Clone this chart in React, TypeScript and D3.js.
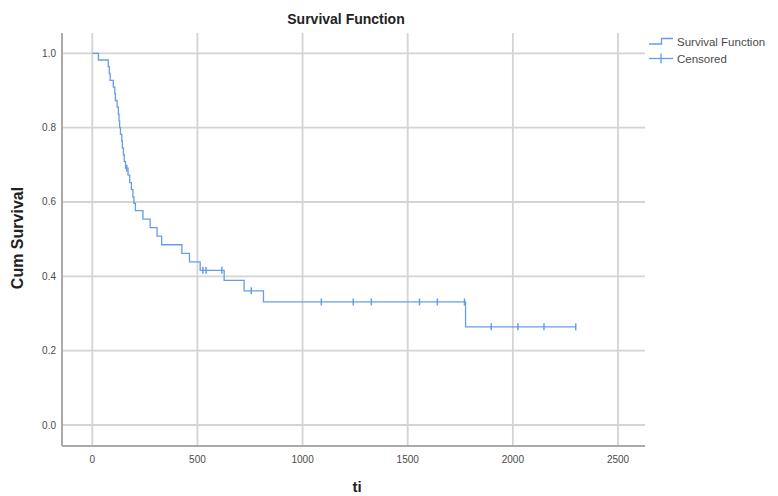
import React from "react";
import * as d3 from "d3";

const eventTimes = [0, 29, 76, 81, 85, 100, 107, 110, 118, 124, 127, 130, 134, 140, 143, 148, 152, 158, 170, 178, 186, 193, 198, 205, 241, 275, 308, 330, 426, 462, 513, 627, 722, 814, 1775];
const survival = [1.0, 0.982, 0.964, 0.945, 0.927, 0.909, 0.891, 0.873, 0.855, 0.836, 0.818, 0.8, 0.782, 0.764, 0.745, 0.727, 0.709, 0.691, 0.672, 0.652, 0.633, 0.614, 0.596, 0.577, 0.554, 0.531, 0.508, 0.485, 0.462, 0.439, 0.416, 0.389, 0.361, 0.331, 0.264];
const censorTimes = [164, 526, 541, 616, 756, 1089, 1241, 1327, 1556, 1641, 1770, 1897, 2024, 2148, 2299];
const xTicks = [0, 500, 1000, 1500, 2000, 2500];
const yTicks = [0.0, 0.2, 0.4, 0.6, 0.8, 1.0];

const W = 778, H = 496;
const LINE = "#649de8";
const GRID = "#d4d4d4";
const AXIS = "#aaaaaa";
const TXT = "#4a4a4a";

export default function App() {
  const x = d3.scaleLinear().domain([0, 2500]).range([92.3, 618]);
  const y = d3.scaleLinear().domain([0, 1]).range([425, 53.3]);
  const left = 62, right = 645, top = 33, bottom = 446;

  const pts: [number, number][] = eventTimes.map((t, i) => [t, survival[i]]);
  const lastT = censorTimes[censorTimes.length - 1];
  pts.push([lastT, survival[survival.length - 1]]);
  const line = d3.line<[number, number]>().x(d => x(d[0])).y(d => y(d[1])).curve(d3.curveStepAfter);

  const sAt = (t: number) => {
    let s = 1;
    for (let i = 0; i < eventTimes.length; i++) if (eventTimes[i] <= t) s = survival[i];
    return s;
  };

  const font = "'Liberation Sans', Arial, sans-serif";

  return (
    <svg width={W} height={H} style={{ position: "absolute", left: 0, top: 0, background: "#fff" }} fontFamily={font}>
      <rect width={W} height={H} fill="#fff" />
      {yTicks.map(v => (
        <line key={"gy" + v} x1={left} x2={right} y1={y(v)} y2={y(v)} stroke={GRID} strokeWidth={1.8} />
      ))}
      {xTicks.map(v => (
        <line key={"gx" + v} x1={x(v)} x2={x(v)} y1={top} y2={bottom} stroke={GRID} strokeWidth={1.8} />
      ))}
      <line x1={left} x2={left} y1={top} y2={bottom} stroke={AXIS} strokeWidth={2} />
      <line x1={left} x2={right} y1={bottom} y2={bottom} stroke={AXIS} strokeWidth={2} />
      {yTicks.map(v => (
        <text key={"ty" + v} x={56} y={y(v)} dy="0.35em" textAnchor="end" fontSize={10} fill={TXT}>{v.toFixed(1)}</text>
      ))}
      {xTicks.map(v => (
        <text key={"tx" + v} x={x(v)} y={463} textAnchor="middle" fontSize={10} fill={TXT}>{v}</text>
      ))}
      <path d={line(pts) || ""} fill="none" stroke={LINE} strokeWidth={1.3} />
      {censorTimes.map(t => (
        <line key={"c" + t} x1={x(t)} x2={x(t)} y1={y(sAt(t)) - 3.5} y2={y(sAt(t)) + 3.5} stroke={LINE} strokeWidth={1.5} />
      ))}
      <text x={346} y={24} textAnchor="middle" fontSize={14} fontWeight="bold" fill="#222">Survival Function</text>
      <text transform={`translate(23,238) rotate(-90)`} textAnchor="middle" fontSize={16} fontWeight="bold" fill="#222">Cum Survival</text>
      <text x={357} y={492} textAnchor="middle" fontSize={15} fontWeight="bold" fill="#222">ti</text>
      <path d="M649,44 H661.5 V38.5 H673" fill="none" stroke={LINE} strokeWidth={1.3} />
      <text x={677} y={42} dy="0.35em" fontSize={11.5} fill={TXT}>Survival Function</text>
      <line x1={649} x2={673} y1={58.5} y2={58.5} stroke={LINE} strokeWidth={1.3} />
      <line x1={661} x2={661} y1={53.5} y2={63.5} stroke={LINE} strokeWidth={1.3} />
      <text x={677} y={59} dy="0.35em" fontSize={11.5} fill={TXT}>Censored</text>
    </svg>
  );
}
